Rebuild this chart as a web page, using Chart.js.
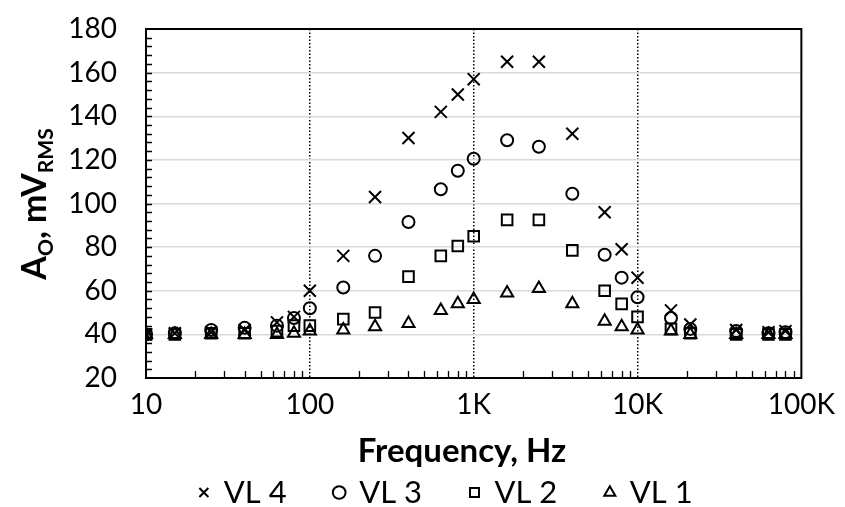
<!DOCTYPE html>
<html>
<head>
<meta charset="utf-8">
<script src="https://cdn.jsdelivr.net/npm/chart.js@4.4.1/dist/chart.umd.min.js"></script>
<style>
  html, body { margin: 0; padding: 0; background: #fff; }
  #wrap { width: 845px; height: 507px; }
</style>
</head>
<body>
<div id="wrap"><canvas id="grafico" width="845" height="507"></canvas></div>
<script>
// frequência (Hz) e amplitude de saída (mV RMS) para cada nível
const frequencias = [10, 15, 25, 40, 63, 80, 100, 160, 250, 400, 630, 800, 1000, 1600, 2500, 4000, 6300, 8000, 10000, 16000, 21000, 40000, 63000, 80000];
const vl4 = [40, 40.5, 41, 42, 45.5, 48, 60, 76, 103, 130, 142, 150, 157, 165, 165, 132, 96, 79, 66, 51, 44.5, 42, 41, 41.5];
const vl3 = [40, 40.5, 42, 43, 44, 47.5, 52, 61.5, 76, 91.5, 106.5, 115, 120.5, 129, 126, 104.5, 76.5, 66, 57, 47.5, 42.5, 41.5, 40.5, 41];
const vl2 = [40, 40, 40.5, 40.5, 41.5, 44, 44, 47, 50, 66.5, 76, 80.5, 85, 92.5, 92.5, 78.5, 60, 54, 48, 42.5, 40.5, 40, 40, 40];
const vl1 = [40, 40, 40, 40, 40, 40.5, 41.5, 42, 43.5, 45, 51, 54, 56, 59, 61, 54, 46, 43.5, 42, 41.5, 40, 40, 40, 40];

const ticksX = [10, 100, 1000, 10000, 100000];
const rotulosX = ["10", "100", "1K", "10K", "100K"];
const linhasPontilhadas = [100, 1000, 10000];

const fonte = "Lato, 'DejaVu Sans', sans-serif";

const pontos = vals => frequencias.map((f, i) => ({ x: f, y: vals[i] }));

function serie(label, vals, estilo, raio) {
  return {
    label,
    data: pontos(vals),
    pointStyle: estilo,
    pointRadius: raio,
    pointHoverRadius: raio,
    borderColor: "#000",
    backgroundColor: "rgba(0,0,0,0)",
    borderWidth: 2,
    showLine: false
  };
}

// moldura da área, marcas menores e títulos dos eixos
const molduraEixos = {
  id: "molduraEixos",
  beforeDatasetsDraw(chart) {
    const { ctx, chartArea: a, scales: { x, y } } = chart;
    ctx.save();
    ctx.strokeStyle = "#000";
    ctx.lineWidth = 1.3;
    ctx.beginPath();
    for (let d = 10; d < 100000; d *= 10) {
      for (let m = 2; m <= 9; m++) {
        const px = Math.round(x.getPixelForValue(m * d)) + 0.5;
        ctx.moveTo(px, a.bottom);
        ctx.lineTo(px, a.bottom - 7);
      }
    }
    for (let v = 24; v < 180; v += 4) {
      const py = Math.round(y.getPixelForValue(v)) + 0.5;
      ctx.moveTo(a.left, py);
      ctx.lineTo(a.left + 6, py);
    }
    ctx.stroke();
    ctx.lineWidth = 2;
    ctx.strokeRect(a.left, a.top, a.right - a.left, a.bottom - a.top);
    ctx.restore();
  },
  afterDraw(chart) {
    const { ctx } = chart;
    ctx.save();
    ctx.fillStyle = "#000";
    ctx.textBaseline = "alphabetic";

    // título do eixo x
    ctx.font = `bold 33px ${fonte}`;
    ctx.textAlign = "center";
    ctx.fillText("Frequency, Hz", 462, 462);

    // título do eixo y com subscritos
    const partes = [["A", false], ["O", true], [", mV", false], ["RMS", true]];
    const fNormal = `bold 34px ${fonte}`;
    const fSub = `bold 21px ${fonte}`;
    let total = 0;
    const larguras = partes.map(([t, sub]) => {
      ctx.font = sub ? fSub : fNormal;
      const w = ctx.measureText(t).width;
      total += w;
      return w;
    });
    ctx.translate(46, 204);
    ctx.rotate(-Math.PI / 2);
    ctx.textAlign = "left";
    let cx = -total / 2;
    partes.forEach(([t, sub], i) => {
      ctx.font = sub ? fSub : fNormal;
      ctx.fillText(t, cx, sub ? 7 : 0);
      cx += larguras[i];
    });
    ctx.restore();
  }
};

new Chart(document.getElementById("grafico"), {
  type: "scatter",
  data: {
    datasets: [
      serie("VL 4", vl4, "crossRot", 8.5),
      serie("VL 3", vl3, "circle", 6),
      serie("VL 2", vl2, "rect", 7.5),
      serie("VL 1", vl1, "triangle", 7)
    ]
  },
  options: {
    responsive: false,
    animation: false,
    events: [],
    layout: { padding: { left: 47, right: 0, top: 29, bottom: -11 } },
    plugins: {
      tooltip: { enabled: false },
      legend: {
        position: "bottom",
        labels: {
          usePointStyle: true,
          boxWidth: 9,
          boxHeight: 9,
          padding: 48,
          color: "#000",
          font: { family: fonte, size: 31 }
        }
      }
    },
    scales: {
      x: {
        type: "logarithmic",
        min: 10,
        max: 100000,
        afterBuildTicks: s => { s.ticks = ticksX.map(v => ({ value: v })); },
        afterFit: s => { s.height = 51; },
        ticks: {
          autoSkip: false,
          maxRotation: 0,
          padding: 10,
          color: "#000",
          font: { family: fonte, size: 28 },
          callback: v => rotulosX[ticksX.indexOf(v)]
        },
        grid: {
          drawTicks: false,
          lineWidth: 1.5,
          color: c => (c.tick && linhasPontilhadas.includes(c.tick.value)) ? "#000" : "rgba(0,0,0,0)"
        },
        border: { display: false, dash: [1.5, 2] }
      },
      y: {
        min: 20,
        max: 180,
        afterFit: s => { s.width = 99; },
        ticks: {
          stepSize: 20,
          padding: 0,
          color: "#000",
          font: { family: fonte, size: 28 }
        },
        grid: {
          color: "#d9d9d9",
          lineWidth: 1.5,
          tickLength: 29,
          tickColor: "rgba(0,0,0,0)"
        },
        border: { display: false }
      },
      // margem à direita da área do gráfico
      margem: {
        position: "right",
        afterFit: s => { s.width = 37; },
        ticks: { display: false },
        grid: { display: false },
        border: { display: false }
      }
    }
  },
  plugins: [molduraEixos]
});
</script>
</body>
</html>
